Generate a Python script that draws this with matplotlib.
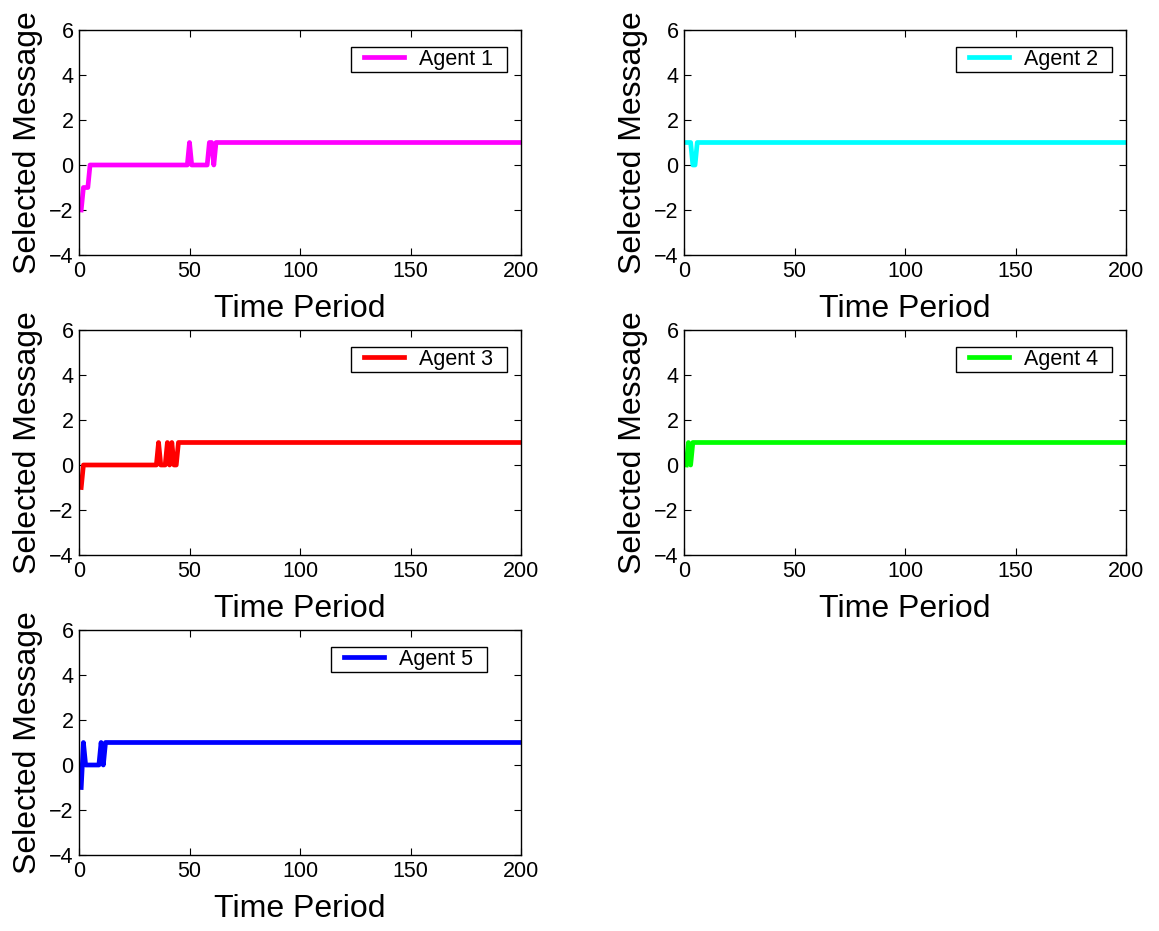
import matplotlib
matplotlib.use("Agg")
import matplotlib.pyplot as plt
from matplotlib.patches import Rectangle

plt.rcParams['font.family'] = ['Liberation Sans', 'DejaVu Sans']

# ---- data (time periods 1..200, step values) ----
time = list(range(1, 201))
agent1 = [-2] + [-1]*3 + [0]*45 + [1] + [0]*8 + [1]*2 + [0] + [1]*139
agent2 = [1]*3 + [0]*2 + [1]*195
agent3 = [-1] + [0]*34 + [1] + [0]*3 + [1] + [0] + [1] + [0]*2 + [1]*156
agent4 = [0] + [1] + [0] + [1]*197
agent5 = [-1] + [1] + [0]*7 + [1] + [0] + [1]*189

series = [agent1, agent2, agent3, agent4, agent5]
labels = ["Agent 1", "Agent 2", "Agent 3", "Agent 4", "Agent 5"]
colors = ["#ff00ff", "#00ffff", "#ff0000", "#00ff00", "#0000ff"]
x_ticks = [0, 50, 100, 150, 200]
y_ticks = [-4, -2, 0, 2, 4, 6]

W, H = 1159, 931
fig = plt.figure(figsize=(W/100, H/100), dpi=100)

# pixel boxes: (left, top, right, bottom)
boxes = [(79, 30, 521, 255), (684, 30, 1126, 255),
         (79, 330, 521, 555), (684, 330, 1126, 555),
         (79, 630, 521, 855)]
# legend frame right / top edges (pixels)
leg_right = [507, 1112, 507, 1112, 487]
leg_top = [47, 47, 347, 347, 647]
PAD_L, PAD_R, PAD_V = 13, 14, 2

legends = []
for i, (ys, lab, col) in enumerate(zip(series, labels, colors)):
    l, t, r, b = boxes[i]
    ax = fig.add_axes([l/W, (H-b)/H, (r-l)/W, (b-t)/H])
    ax.plot(time, ys, color=col, linewidth=3.4, label=lab)
    ax.set_xlim(0, 200)
    ax.set_ylim(-4, 6)
    ax.set_xticks(x_ticks)
    ax.set_yticks(y_ticks)
    ax.tick_params(direction='in', top=True, right=True, labelsize=15.5,
                   length=5, width=0.8, pad=4)
    for s in ax.spines.values():
        s.set_linewidth(1.0)
    ax.set_xlabel("Time Period", fontsize=23, labelpad=9)
    ax.set_ylabel("Selected Message", fontsize=23, labelpad=4)
    bx = (leg_right[i] - PAD_R - l) / (r - l)
    by = 1 - (leg_top[i] + PAD_V - t) / (b - t)
    leg = ax.legend(loc='upper right', bbox_to_anchor=(bx, by),
                    borderaxespad=0, fontsize=15.5, frameon=False,
                    handlelength=1.86, handletextpad=0.7, borderpad=0)
    legends.append(leg)

fig.canvas.draw()
for leg in legends:
    bb = leg.get_window_extent()
    rect = Rectangle((bb.x0 - PAD_L, bb.y0 - PAD_V), bb.width + PAD_L + PAD_R,
                     bb.height + 2 * PAD_V, transform=None, facecolor='white',
                     edgecolor='black', linewidth=1.0, zorder=4)
    fig.patches.append(rect)
    leg.set_zorder(5)
    leg.remove()
    fig.legends.append(leg)
    leg.set_figure(fig)

fig.savefig("out.png", dpi=100)
